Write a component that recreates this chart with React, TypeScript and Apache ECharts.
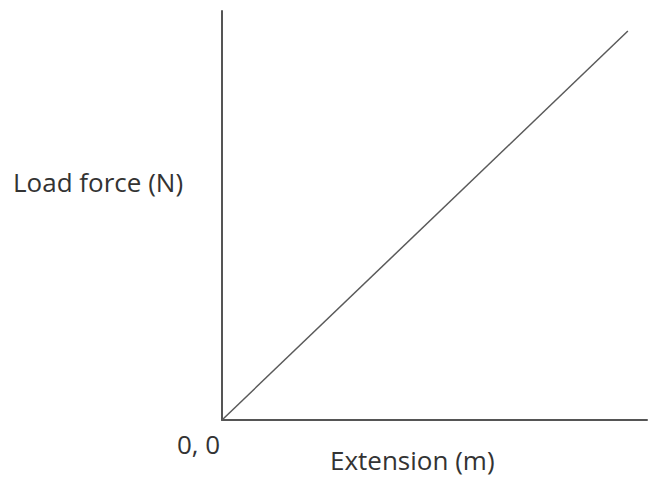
import React, { useEffect, useRef } from "react";
import * as echarts from "echarts";

const lineX = [0, 95.5];
const lineY = [0, 95.1];
const yAxisTitle = "Load force (N)";
const xAxisTitle = "Extension (m)";
const originLabel = "0, 0";

export default function App() {
  const ref = useRef<HTMLDivElement>(null);
  useEffect(() => {
    document.body.style.margin = "0";
    const chart = echarts.init(ref.current!, undefined, { renderer: "svg" });
    const font = "'Open Sans', sans-serif";
    const textColor = "#333333";
    chart.setOption({
      animation: false,
      backgroundColor: "#ffffff",
      grid: { left: 222, top: 11, right: 2, bottom: 58 },
      xAxis: {
        type: "value",
        min: 0,
        max: 100,
        axisLine: { show: true, lineStyle: { color: "#555555", width: 2 } },
        axisTick: { show: false },
        axisLabel: { show: false },
        splitLine: { show: false },
      },
      yAxis: {
        type: "value",
        min: 0,
        max: 100,
        axisLine: { show: true, lineStyle: { color: "#555555", width: 2 } },
        axisTick: { show: false },
        axisLabel: { show: false },
        splitLine: { show: false },
      },
      series: [
        {
          type: "line",
          data: lineX.map((x, i) => [x, lineY[i]]),
          symbol: "none",
          lineStyle: { color: "#5a5a5a", width: 1.5 },
        },
      ],
      graphic: [
        {
          type: "text",
          left: 13,
          top: 169,
          style: { text: yAxisTitle, font: `26px ${font}`, fill: textColor },
        },
        {
          type: "text",
          left: 177,
          top: 431,
          style: { text: originLabel, font: `26px ${font}`, fill: textColor },
        },
        {
          type: "text",
          left: 330,
          top: 447,
          style: { text: xAxisTitle, font: `26px ${font}`, fill: textColor },
        },
      ],
    });
    return () => chart.dispose();
  }, []);
  return (
    <div
      ref={ref}
      style={{ position: "fixed", left: 0, top: 0, width: 649, height: 478 }}
    />
  );
}
